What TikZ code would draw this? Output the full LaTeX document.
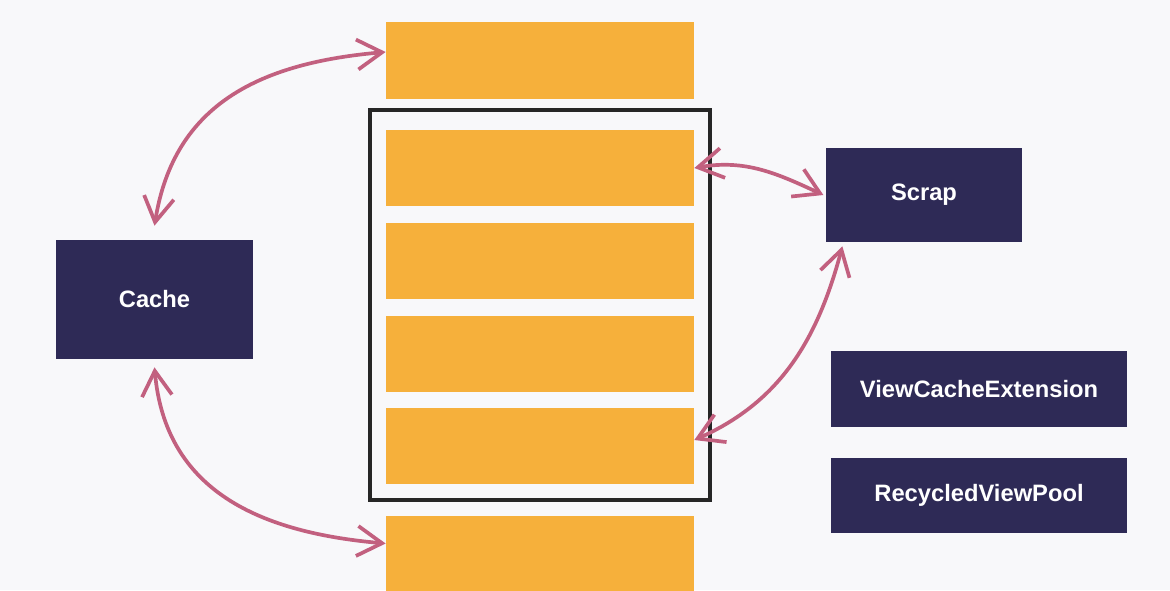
\documentclass[tikz,border=0pt]{standalone}
\usepackage{fontspec}
\setsansfont{Liberation Sans}
\usetikzlibrary{arrows.meta}

\definecolor{viewbar}{HTML}{F6B03B}
\definecolor{poolnavy}{HTML}{2E2A56}
\definecolor{linkpink}{HTML}{C2607F}
\definecolor{paper}{HTML}{F8F8FA}

\begin{document}
\begin{tikzpicture}[
    font=\sffamily,
    viewrow/.style={fill=viewbar, minimum width=6.16cm, minimum height=1.52cm, inner sep=0pt},
    store/.style={
        fill=poolnavy, text=white,
        minimum width=3.93cm, inner sep=0pt,
        font=\sffamily\fontsize{13.5}{16}\selectfont\bfseries
    },
    link/.style={{Straight Barb[length=5mm, width=6mm]}-{Straight Barb[length=5mm, width=6mm]}, line width=2.1pt, color=linkpink}
]

% Background and frame of the picture
\clip (0,0) rectangle (23.4,-11.8);
\fill[paper] (0,0) rectangle (23.4,-11.8);

%%%%%%%%%%%%%%%%%%%%%
% Item views of the list
%%%%%%%%%%%%%%%%%%%%%
\node[viewrow, minimum height=1.54cm] (topview) at (10.8,-1.21) {};
\node[viewrow] (row1) at (10.8,-3.36) {};
\node[viewrow] (row2) at (10.8,-5.22) {};
\node[viewrow] (row3) at (10.8,-7.08) {};
\node[viewrow] (row4) at (10.8,-8.92) {};
\node[viewrow, minimum height=1.54cm] (botview) at (10.8,-11.09) {};

% Visible area
\draw[black!85, line width=2.8pt] (7.4,-2.2) rectangle (14.2,-10.0);

%%%%%%%%%%%%%%%%%%%%%
% Recycler stores
%%%%%%%%%%%%%%%%%%%%%
\node[store, minimum height=2.38cm] (cache) at (3.09,-5.99) {Cache};
\node[store, minimum height=1.88cm] (scrap) at (18.48,-3.9) {Scrap};
\node[store, minimum width=5.92cm, minimum height=1.52cm] (extension) at (19.58,-7.78) {ViewCacheExtension};
\node[store, minimum width=5.92cm, minimum height=1.50cm] (pool) at (19.58,-9.91) {RecycledViewPool};

%%%%%%%%%%%%%%%%%%%%%
% Exchanges
%%%%%%%%%%%%%%%%%%%%%
\draw[link] ([yshift=0.28cm]cache.north) to[out=81, in=185, looseness=1.1] ([yshift=0.17cm]topview.west);
\draw[link] ([yshift=-0.16cm]cache.south) to[out=275, in=175, looseness=1.1] ([yshift=0.22cm]botview.west);
\draw[link] (row1.east) to[out=10, in=155] ([xshift=-0.04cm]scrap.west);
\draw[link] ([xshift=0.34cm, yshift=-0.08cm]scrap.south west) to[out=255, in=24] ([yshift=0.12cm]row4.east);

\end{tikzpicture}
\end{document}
